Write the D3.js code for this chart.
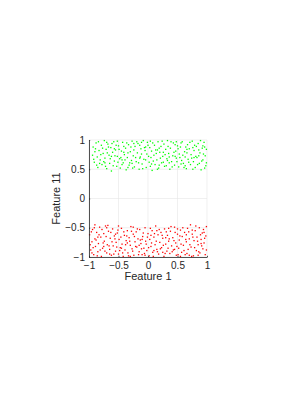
<!DOCTYPE html>
<html>
<head>
<meta charset="utf-8">
<script src="https://cdn.jsdelivr.net/npm/d3@7"></script>
<style>
  body { margin: 0; background: #fff; }
  text { font-family: "Liberation Sans", Arial, sans-serif; fill: #262626; }
</style>
</head>
<body>
<div id="chart"></div>
<script>
var width = 289;
var height = 410;

// class 1 (green) points
var greenPts = [
  [-0.93,0.88],[-0.91,0.62],[-0.88,0.95],[-0.86,0.71],[-0.85,0.53],[-0.83,0.82],[-0.81,0.66],[-0.79,0.91],[-0.78,0.58],[-0.76,0.77],
  [-0.74,0.99],[-0.73,0.69],[-0.71,0.84],[-0.70,0.51],[-0.68,0.93],[-0.66,0.74],[-0.65,0.60],[-0.63,0.87],[-0.62,0.47],[-0.60,0.79],
  [-0.58,0.97],[-0.57,0.64],[-0.55,0.83],[-0.53,0.55],[-0.52,0.72],[-0.50,0.90],[-0.48,0.68],[-0.47,0.52],[-0.45,0.81],[-0.43,0.96],
  [-0.42,0.61],[-0.40,0.75],[-0.38,0.86],[-0.37,0.49],[-0.35,0.70],[-0.33,0.92],[-0.32,0.57],[-0.30,0.80],[-0.28,0.65],[-0.27,0.98],
  [-0.25,0.73],[-0.23,0.54],[-0.22,0.89],[-0.20,0.63],[-0.18,0.78],[-0.17,0.94],[-0.15,0.50],[-0.13,0.71],[-0.12,0.85],[-0.10,0.59],
  [-0.08,0.99],[-0.07,0.67],[-0.05,0.82],[-0.03,0.53],[-0.02,0.76],[0.00,0.91],[0.02,0.62],[0.03,0.87],[0.05,0.70],[0.07,0.48],
  [0.08,0.95],[0.10,0.74],[0.12,0.58],[0.13,0.83],[0.15,0.66],[0.17,0.97],[0.18,0.52],[0.20,0.79],[0.22,0.89],[0.23,0.61],
  [0.25,0.72],[0.27,0.93],[0.28,0.55],[0.30,0.84],[0.32,0.68],[0.33,0.99],[0.35,0.77],[0.37,0.50],[0.38,0.86],[0.40,0.63],
  [0.42,0.73],[0.43,0.95],[0.45,0.57],[0.47,0.81],[0.48,0.69],[0.50,0.90],[0.52,0.54],[0.53,0.76],[0.55,0.88],[0.57,0.65],
  [0.58,0.97],[0.60,0.60],[0.62,0.80],[0.63,0.71],[0.65,0.51],[0.67,0.92],[0.68,0.67],[0.70,0.85],[0.72,0.58],[0.73,0.75],
  [0.75,0.98],[0.77,0.63],[0.78,0.82],[0.80,0.53],[0.82,0.89],[0.83,0.70],[0.85,0.94],[0.87,0.60],[0.88,0.78],[0.90,0.49],
  [0.92,0.86],[0.93,0.66],[0.95,0.96],[0.97,0.73],[0.98,0.56],[0.99,0.84],
  [-0.94,0.74],[-0.90,0.80],[-0.87,0.57],[-0.84,0.97],[-0.80,0.75],[-0.77,0.86],[-0.75,0.63],[-0.72,0.55],[-0.69,0.78],[-0.67,0.88],
  [-0.64,0.68],[-0.61,0.94],[-0.59,0.56],[-0.56,0.73],[-0.54,0.91],[-0.51,0.62],[-0.49,0.84],[-0.46,0.70],[-0.44,0.58],[-0.41,0.89],
  [-0.39,0.66],[-0.36,0.95],[-0.34,0.78],[-0.31,0.61],[-0.29,0.88],[-0.26,0.52],[-0.24,0.83],[-0.21,0.70],[-0.19,0.97],[-0.16,0.61],
  [-0.14,0.91],[-0.11,0.76],[-0.09,0.51],[-0.06,0.87],[-0.04,0.66],[-0.01,0.96],[0.01,0.72],[0.04,0.55],[0.06,0.81],[0.09,0.64],
  [0.11,0.91],[0.14,0.77],[0.16,0.50],[0.19,0.86],[0.21,0.69],[0.24,0.98],[0.26,0.62],[0.29,0.75],[0.31,0.56],[0.34,0.89],
  [0.36,0.71],[0.39,0.97],[0.41,0.54],[0.44,0.79],[0.46,0.92],[0.49,0.63],[0.51,0.85],[0.54,0.70],[0.56,0.95],[0.59,0.74],
  [0.61,0.53],[0.64,0.88],[0.66,0.78],[0.69,0.62],[0.71,0.96],[0.74,0.69],[0.76,0.50],[0.79,0.91],[0.81,0.72],[0.84,0.58],
  [0.86,0.83],[0.89,0.99],[0.91,0.64],[0.94,0.76],[0.96,0.88],[0.99,0.61],
  [-0.92,0.67],[-0.82,0.60],[-0.70,0.96],[-0.62,0.72],[-0.52,0.98],[-0.44,0.66],[-0.34,0.53],[-0.24,0.94],[-0.14,0.69],[-0.04,0.88],
  [0.06,0.59],[0.16,0.83],[0.26,0.79],[0.36,0.61],[0.46,0.72],[0.56,0.59],[0.66,0.84],[0.76,0.87],[0.86,0.73],[0.96,0.52],
  [-0.89,0.85],[-0.73,0.61],[-0.57,0.85],[-0.41,0.79],[-0.27,0.60],[-0.11,0.96],[0.04,0.98],[0.19,0.57],[0.33,0.65],[0.48,0.97],
  [0.63,0.56],[0.78,0.70],[0.93,0.90]
];

// class 2 (red) points
var redPts = [
  [-0.99,-0.62],[-0.97,-0.88],[-0.95,-0.74],[-0.94,-0.53],[-0.92,-0.96],[-0.90,-0.69],[-0.89,-0.82],[-0.87,-0.58],[-0.85,-0.91],[-0.84,-0.77],
  [-0.82,-0.49],[-0.80,-0.66],[-0.79,-0.99],[-0.77,-0.85],[-0.75,-0.60],[-0.74,-0.73],[-0.72,-0.47],[-0.70,-0.93],[-0.69,-0.79],[-0.67,-0.56],
  [-0.65,-0.87],[-0.64,-0.68],[-0.62,-0.97],[-0.60,-0.52],[-0.59,-0.81],[-0.57,-0.64],[-0.55,-0.90],[-0.54,-0.75],[-0.52,-0.59],[-0.50,-0.95],
  [-0.49,-0.70],[-0.47,-0.84],[-0.45,-0.51],[-0.44,-0.78],[-0.42,-0.99],[-0.40,-0.63],[-0.39,-0.88],[-0.37,-0.72],[-0.35,-0.55],[-0.34,-0.93],
  [-0.32,-0.67],[-0.30,-0.80],[-0.29,-0.48],[-0.27,-0.86],[-0.25,-0.61],[-0.24,-0.97],[-0.22,-0.74],[-0.20,-0.57],[-0.19,-0.83],[-0.17,-0.69],
  [-0.15,-0.91],[-0.14,-0.53],[-0.12,-0.77],[-0.10,-0.96],[-0.09,-0.65],[-0.07,-0.85],[-0.05,-0.50],[-0.04,-0.73],[-0.02,-0.89],[0.00,-0.60],
  [0.02,-0.98],[0.03,-0.70],[0.05,-0.82],[0.07,-0.55],[0.08,-0.92],[0.10,-0.66],[0.12,-0.79],[0.13,-0.47],[0.15,-0.87],[0.17,-0.62],
  [0.18,-0.95],[0.20,-0.75],[0.22,-0.58],[0.23,-0.84],[0.25,-0.68],[0.27,-0.99],[0.28,-0.52],[0.30,-0.78],[0.32,-0.90],[0.33,-0.63],
  [0.35,-0.73],[0.37,-0.94],[0.38,-0.56],[0.40,-0.81],[0.42,-0.67],[0.43,-0.88],[0.45,-0.49],[0.47,-0.76],[0.48,-0.97],[0.50,-0.61],
  [0.52,-0.85],[0.53,-0.71],[0.55,-0.54],[0.57,-0.92],[0.58,-0.65],[0.60,-0.80],[0.62,-0.58],[0.63,-0.96],[0.65,-0.74],[0.67,-0.51],
  [0.68,-0.87],[0.70,-0.69],[0.72,-0.45],[0.73,-0.83],[0.75,-0.61],[0.77,-0.98],[0.78,-0.72],[0.80,-0.55],[0.82,-0.89],[0.83,-0.66],
  [0.85,-0.79],[0.87,-0.50],[0.88,-0.93],[0.90,-0.70],[0.92,-0.59],[0.93,-0.86],[0.95,-0.76],[0.97,-0.96],[0.98,-0.64],[0.99,-0.48],
  [-0.98,-0.79],[-0.96,-0.57],[-0.93,-0.84],[-0.91,-0.50],[-0.88,-0.71],[-0.86,-0.98],[-0.83,-0.62],[-0.81,-0.88],[-0.78,-0.53],[-0.76,-0.76],
  [-0.73,-0.90],[-0.71,-0.65],[-0.68,-0.46],[-0.66,-0.81],[-0.63,-0.58],[-0.61,-0.74],[-0.58,-0.95],[-0.56,-0.69],[-0.53,-0.83],[-0.51,-0.54],
  [-0.48,-0.89],[-0.46,-0.66],[-0.43,-0.93],[-0.41,-0.57],[-0.38,-0.79],[-0.36,-0.64],[-0.33,-0.98],[-0.31,-0.73],[-0.28,-0.56],[-0.26,-0.90],
  [-0.23,-0.65],[-0.21,-0.82],[-0.18,-0.52],[-0.16,-0.96],[-0.13,-0.71],[-0.11,-0.86],[-0.08,-0.59],[-0.06,-0.94],[-0.03,-0.78],[-0.01,-0.66],
  [0.01,-0.84],[0.04,-0.51],[0.06,-0.76],[0.09,-0.99],[0.11,-0.60],[0.14,-0.73],[0.16,-0.91],[0.19,-0.53],[0.21,-0.86],[0.24,-0.63],
  [0.26,-0.80],[0.29,-0.94],[0.31,-0.57],[0.34,-0.85],[0.36,-0.69],[0.39,-0.48],[0.41,-0.91],[0.44,-0.72],[0.46,-0.58],[0.49,-0.82],
  [0.51,-0.96],[0.54,-0.64],[0.56,-0.78],[0.59,-0.50],[0.61,-0.89],[0.64,-0.70],[0.66,-0.94],[0.69,-0.57],[0.71,-0.79],[0.74,-0.99],
  [0.76,-0.66],[0.79,-0.84],[0.81,-0.47],[0.84,-0.73],[0.86,-0.91],[0.89,-0.62],[0.91,-0.81],[0.94,-0.53],[0.96,-0.68],[0.99,-0.88],
  [-0.95,-0.93],[-0.85,-0.66],[-0.75,-0.82],[-0.65,-0.95],[-0.55,-0.61],[-0.45,-0.85],[-0.35,-0.76],[-0.25,-0.49],[-0.15,-0.80],[-0.05,-0.97],
  [0.05,-0.63],[0.15,-0.55],[0.25,-0.92],[0.35,-0.51],[0.45,-0.87],[0.55,-0.99],[0.65,-0.62],[0.75,-0.54],[0.85,-0.97],[0.95,-0.58],
  [-0.90,-0.45],[-0.70,-0.50],[-0.50,-0.47],[-0.30,-0.99],[-0.10,-0.70],[0.10,-0.89],[0.30,-0.67],[0.50,-0.52],[0.70,-0.97],[0.90,-0.77]
];

var xTicks = [-1, -0.5, 0, 0.5, 1];
var yTicks = [-1, -0.5, 0, 0.5, 1];
var xLabel = "Feature 1";
var yLabel = "Feature 11";

var margin = {left: 89, top: 140, right: 82, bottom: 153};
var w = width - margin.left - margin.right;
var h = height - margin.top - margin.bottom;

var svg = d3.select("#chart").append("svg")
    .attr("width", width)
    .attr("height", height);

var g = svg.append("g")
    .attr("transform", "translate(" + margin.left + "," + margin.top + ")");

var x = d3.scaleLinear().domain([-1, 1]).range([0, w]);
var y = d3.scaleLinear().domain([-1, 1]).range([h, 0]);

var fmt = function (d) { return d3.format("")(d).replace("-", "\u2212"); };

// grid
g.selectAll(".gx").data(xTicks).enter().append("line")
    .attr("x1", x).attr("x2", x)
    .attr("y1", 0).attr("y2", h)
    .attr("stroke", "#e6e6e6").attr("stroke-width", 0.6);
g.selectAll(".gy").data(yTicks).enter().append("line")
    .attr("x1", 0).attr("x2", w)
    .attr("y1", y).attr("y2", y)
    .attr("stroke", "#e6e6e6").attr("stroke-width", 0.6);

// points
function drawPts(data, color) {
    g.append("g").selectAll("rect")
        .data(data)
        .enter().append("rect")
        .attr("x", function (d) { return x(d[0]) - 0.65; })
        .attr("y", function (d) { return y(d[1]) - 0.65; })
        .attr("width", 1.3)
        .attr("height", 1.3)
        .attr("fill", color);
}
drawPts(greenPts, "#00ff00");
drawPts(redPts, "#ff0000");

// axes
var xAxis = g.append("g")
    .attr("transform", "translate(0," + h + ")")
    .call(d3.axisBottom(x).tickValues(xTicks).tickFormat(fmt).tickSizeInner(-1.2).tickSizeOuter(0).tickPadding(5));
var yAxis = g.append("g")
    .call(d3.axisLeft(y).tickValues(yTicks).tickFormat(fmt).tickSizeInner(-1.2).tickSizeOuter(0).tickPadding(4));

[xAxis, yAxis].forEach(function (a) {
    a.select(".domain").attr("stroke", "#262626").attr("stroke-width", 0.8);
    a.selectAll(".tick line").attr("stroke", "#262626").attr("stroke-width", 0.8);
    a.selectAll("text").attr("font-size", 10).attr("fill", "#262626")
        .attr("font-family", "'Liberation Sans', Arial, sans-serif");
});

g.append("text")
    .attr("x", w / 2)
    .attr("y", h + 23)
    .attr("text-anchor", "middle")
    .attr("font-size", 11)
    .text(xLabel);

g.append("text")
    .attr("transform", "translate(-29," + (h / 2) + ") rotate(-90)")
    .attr("text-anchor", "middle")
    .attr("font-size", 11)
    .text(yLabel);
</script>
</body>
</html>
